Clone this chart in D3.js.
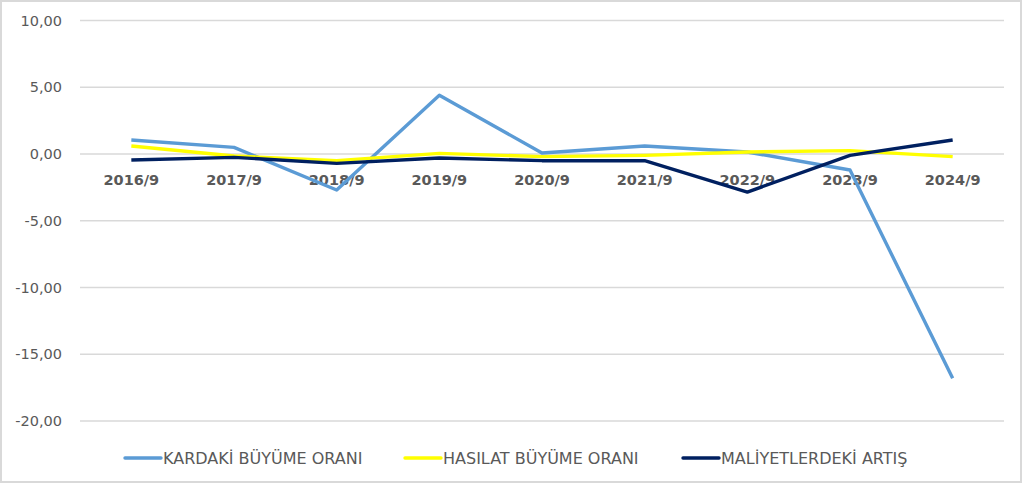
<!DOCTYPE html>
<html>
<head>
<meta charset="utf-8">
<script src="https://cdn.jsdelivr.net/npm/d3@7"></script>
<style>
  html, body { margin: 0; padding: 0; background: #fff; }
  svg text { font-family: "DejaVu Sans", sans-serif; fill: #595959; }
</style>
</head>
<body>
<div id="chart"></div>
<script>
// data
var periods = ['2016/9', '2017/9', '2018/9', '2019/9', '2020/9', '2021/9', '2022/9', '2023/9', '2024/9'];
var kardaki = [1.05, 0.5, -2.7, 4.4, 0.08, 0.6, 0.15, -1.2, -16.8];
var hasilat = [0.6, -0.15, -0.5, 0.05, -0.2, -0.1, 0.15, 0.25, -0.2];
var maliyet = [-0.45, -0.25, -0.7, -0.3, -0.5, -0.5, -2.85, -0.1, 1.05];
var yTicks = [10, 5, 0, -5, -10, -15, -20];
var seriesNames = ['KARDAKİ BÜYÜME ORANI', 'HASILAT BÜYÜME ORANI', 'MALİYETLERDEKİ ARTIŞ'];
var seriesColors = ['#5b9bd5', '#ffff00', '#002060'];

var width = 1024, height = 486;
var margin = {top: 20.5, right: 20, bottom: 65, left: 80};

var svg = d3.select('#chart').append('svg')
  .attr('width', width)
  .attr('height', height);

// outer frame
svg.append('rect')
  .attr('x', 1).attr('y', 1)
  .attr('width', width - 4).attr('height', height - 5)
  .attr('fill', '#fff')
  .attr('stroke', '#d9d9d9')
  .attr('stroke-width', 2);

var x = d3.scaleBand()
  .domain(periods)
  .range([margin.left, width - margin.right]);

var y = d3.scaleLinear()
  .domain([-20, 10])
  .range([height - margin.bottom, margin.top]);

var fmt = function(d) { return d3.format('.2f')(d).replace('.', ',').replace('−', '-'); };

// gridlines
svg.append('g').selectAll('line')
  .data(yTicks)
  .enter().append('line')
  .attr('x1', margin.left).attr('x2', width - margin.right)
  .attr('y1', function(d) { return y(d); })
  .attr('y2', function(d) { return y(d); })
  .attr('stroke', '#d9d9d9')
  .attr('stroke-width', 1.3);

// y labels
svg.append('g').selectAll('text')
  .data(yTicks)
  .enter().append('text')
  .attr('x', 62)
  .attr('y', function(d) { return y(d); })
  .attr('dy', '0.36em')
  .attr('text-anchor', 'end')
  .style('font-size', '14.5px')
  .text(fmt);

// category labels sit just below the zero line
svg.append('g').selectAll('text')
  .data(periods)
  .enter().append('text')
  .attr('x', function(d) { return x(d) + x.bandwidth() / 2; })
  .attr('y', y(0) + 31)
  .attr('text-anchor', 'middle')
  .style('font-size', '14.5px')
  .style('font-weight', 'bold')
  .text(function(d) { return d; });

var line = d3.line()
  .x(function(d, i) { return x(periods[i]) + x.bandwidth() / 2; })
  .y(function(d) { return y(d); });

svg.append('g').selectAll('path')
  .data([kardaki, hasilat, maliyet])
  .enter().append('path')
  .attr('d', line)
  .attr('fill', 'none')
  .attr('stroke', function(d, i) { return seriesColors[i]; })
  .attr('stroke-width', 3.4)
  .attr('stroke-linejoin', 'round');

// legend
var legendX = [125, 405, 683];
var legend = svg.append('g').selectAll('g')
  .data(seriesNames)
  .enter().append('g')
  .attr('transform', function(d, i) { return 'translate(' + legendX[i] + ',458)'; });

legend.append('line')
  .attr('x1', 0).attr('x2', 36)
  .attr('stroke', function(d, i) { return seriesColors[i]; })
  .attr('stroke-width', 3.4)
  .attr('stroke-linecap', 'round');

legend.append('text')
  .attr('x', 38)
  .attr('dy', '0.36em')
  .style('font-size', '16px')
  .text(function(d) { return d; });
</script>
</body>
</html>
